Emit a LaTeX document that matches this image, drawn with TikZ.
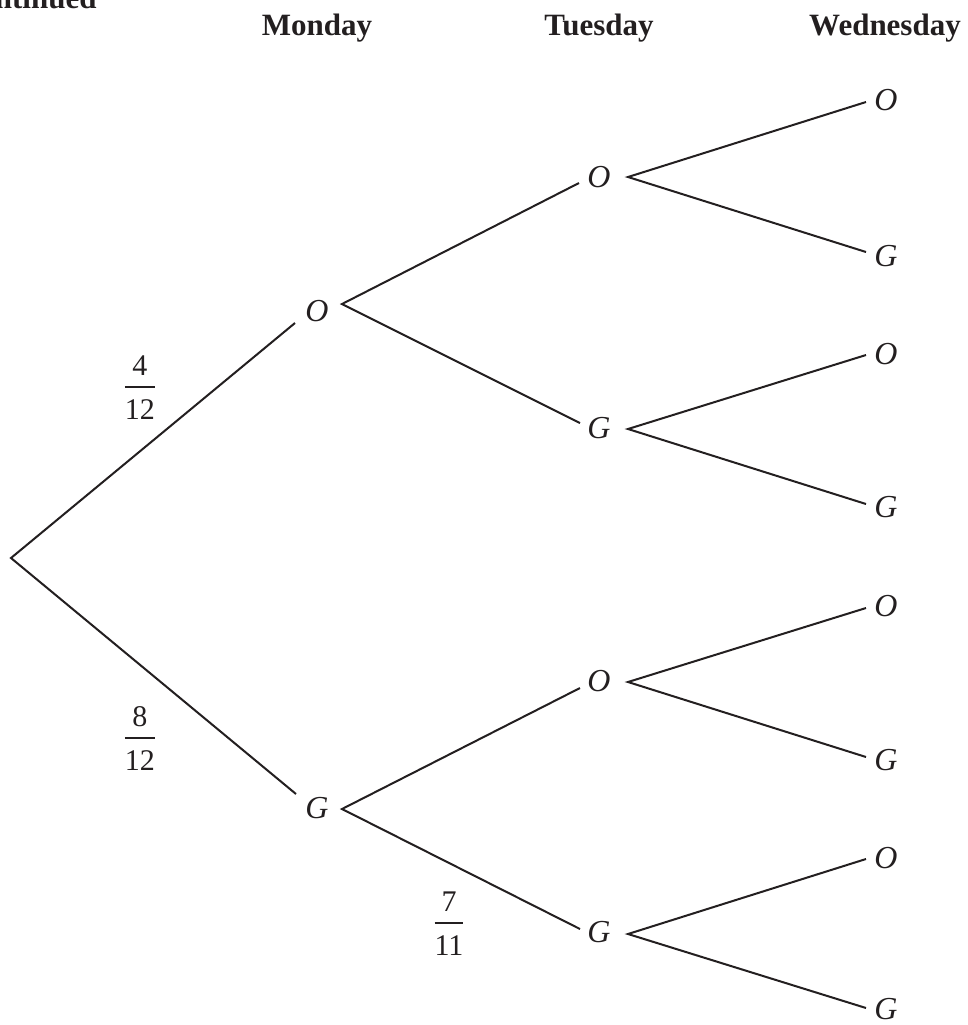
\documentclass[tikz,border=0pt]{standalone}
\usepackage{fontspec}
\setmainfont{Liberation Serif}
\definecolor{ink}{HTML}{231F20}
\setlength{\arrayrulewidth}{1pt}
% stacked fraction built as a one-column table
\newcommand\fracbox[2]{\begin{tabular}{@{}c@{}}#1\\\hline\rule{0pt}{15.5pt}#2\end{tabular}}
\tikzset{
  lbl/.style={font=\fontsize{16}{19}\selectfont\itshape, inner sep=0pt, text=ink},
  head/.style={font=\fontsize{15.5}{18}\selectfont\bfseries, inner sep=0pt, anchor=base, text=ink},
  prob/.style={font=\fontsize{15}{18}\selectfont, inner sep=0pt, text=ink},
  branch/.style={line width=1pt, draw=ink, line join=miter},
}
\begin{document}
\begin{tikzpicture}[x=0.5pt, y=-0.5pt]
\useasboundingbox (0,0) rectangle (968,1025);

% column headings
\node[head, anchor=base east] (cont) at (97,8) {ntinued};
\node[head] (hmon) at (317,35) {Monday};
\node[head] (htue) at (599,35) {Tuesday};
\node[head] (hwed) at (885,35) {Wednesday};

% root
\coordinate (root) at (11,558);

% Monday
\node[lbl] (mO) at (317,311.5) {O};
\coordinate (mOin) at (295,323);  \coordinate (mOout) at (342,304);
\node[lbl] (mG) at (317,808.5) {G};
\coordinate (mGin) at (296,794);  \coordinate (mGout) at (342,809);

% Tuesday
\node[lbl] (tOO) at (599,177.5) {O};
\coordinate (tOOin) at (579,183); \coordinate (tOOout) at (628,177);
\node[lbl] (tOG) at (599,428.5) {G};
\coordinate (tOGin) at (580,423); \coordinate (tOGout) at (628,429);
\node[lbl] (tGO) at (599,681.5) {O};
\coordinate (tGOin) at (580,688); \coordinate (tGOout) at (628,682);
\node[lbl] (tGG) at (599,932.5) {G};
\coordinate (tGGin) at (580,929); \coordinate (tGGout) at (628,934);

% Wednesday
\node[lbl] (w1) at (886,100.5) {O};  \coordinate (w1in) at (866,102);
\node[lbl] (w2) at (886,256.5) {G};  \coordinate (w2in) at (866,252);
\node[lbl] (w3) at (886,354)   {O};  \coordinate (w3in) at (866,355);
\node[lbl] (w4) at (886,507.5) {G};  \coordinate (w4in) at (866,504);
\node[lbl] (w5) at (886,606.5) {O};  \coordinate (w5in) at (866,608);
\node[lbl] (w6) at (886,760)   {G};  \coordinate (w6in) at (866,757);
\node[lbl] (w7) at (886,858.5) {O};  \coordinate (w7in) at (866,859);
\node[lbl] (w8) at (886,1009.5){G};  \coordinate (w8in) at (866,1008);

% branches
\draw[branch] (mOin) -- (root) -- (mGin);
\draw[branch] (tOOin) -- (mOout) -- (tOGin);
\draw[branch] (tGOin) -- (mGout) -- (tGGin);
\draw[branch] (w1in) -- (tOOout) -- (w2in);
\draw[branch] (w3in) -- (tOGout) -- (w4in);
\draw[branch] (w5in) -- (tGOout) -- (w6in);
\draw[branch] (w7in) -- (tGGout) -- (w8in);

% branch probabilities
\node[prob] (p1) at (140,390) {\fracbox{4}{12}};
\node[prob] (p2) at (140,741) {\fracbox{8}{12}};
\node[prob] (p3) at (449,926) {\fracbox{7}{11}};
\end{tikzpicture}
\end{document}
